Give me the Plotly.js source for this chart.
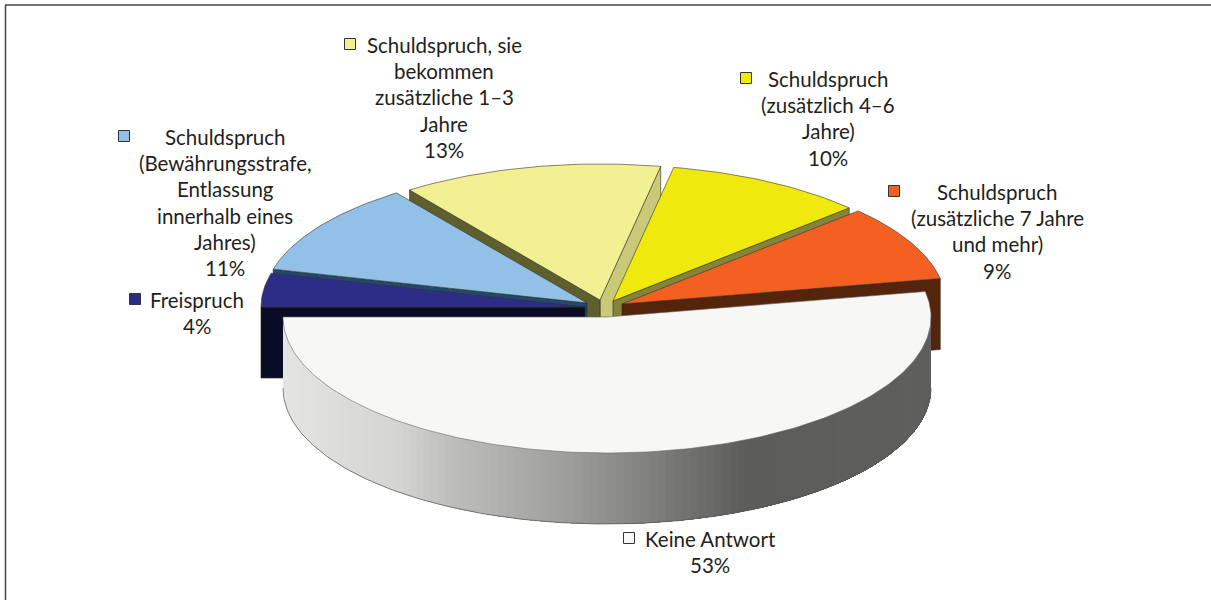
<!DOCTYPE html>
<html>
<head>
<meta charset="utf-8">
<script src="https://cdn.plot.ly/plotly-3.0.1.min.js"></script>
<style>html,body{margin:0;padding:0;background:#fff}</style>
</head>
<body>
<div id="chart" style="width:1211px;height:600px"></div>
<script>
// ---- data ----
const categories = ["Keine Antwort",
  "Schuldspruch<br>(zusätzliche 7 Jahre<br>und mehr)",
  "Schuldspruch<br>(zusätzlich 4–6<br>Jahre)",
  "Schuldspruch, sie<br>bekommen<br>zusätzliche 1–3<br>Jahre",
  "Schuldspruch<br>(Bewährungsstrafe,<br>Entlassung<br>innerhalb eines<br>Jahres)",
  "Freispruch"];
const values = [53, 9, 10, 13, 11, 4];
const topColors = ["#f7f7f5", "#f36021", "#f0e90d", "#f3f094", "#93c0e6", "#2c2d86"];
const startFaceColors = [null, "#54240c", "#85853a", "#c9c978", null, null];
const endFaceColors = [null, null, null, "#5f5f2e", "#24476b", "#0a0c25"];
const explodeX = [0, 15, 6, -7, -20, -22];
const explodeY = [0, -13, -16, -17, -14, -10];
const labelX = [710, 997, 828, 444, 225, 197];
const labelY = [539, 192, 79, 45, 137, 300];
const keyX = [629, 894, 746, 350, 124, 135];
const keyY = [538, 191, 78, 44, 136, 299];
const shadeX = [283, 400, 450, 560, 650, 745, 931];
const shadeGray = [228, 212, 190, 160, 128, 92, 95];

// ---- projection of the tilted pie ----
const cx = 607, cy = 317, rx = 324, ry = 136, depth = 71, startAngle = 180, linePitch = 26.2;
const total = values.reduce((a, b) => a + b, 0);
const rad = d => d * Math.PI / 180;
const px = (a, dx) => cx + dx + rx * Math.cos(rad(a));
const py = (a, dy) => cy + dy - ry * Math.sin(rad(a));

let acc = startAngle;
const spans = values.map(v => { const s = [acc, acc + v / total * 360]; acc = s[1]; return s; });

function arc(a0, a1, dx, dy) {
  const xs = [], ys = [];
  const n = Math.max(2, Math.ceil(Math.abs(a1 - a0)));
  for (let i = 0; i <= n; i++) {
    const a = a0 + (a1 - a0) * i / n;
    xs.push(px(a, dx)); ys.push(py(a, dy));
  }
  return [xs, ys];
}
const poly = (x, y, fill, lineColor, w) => ({
  type: "scatter", mode: "lines", x, y, fill: "toself", fillcolor: fill,
  line: { color: lineColor, width: w }, hoverinfo: "skip", showlegend: false
});
function face(i, angle, color) {
  const dx = explodeX[i], dy = explodeY[i];
  const ox = cx + dx, oy = cy + dy, ex = px(angle, dx), ey = py(angle, dy);
  return poly([ox, ex, ex, ox, ox], [oy, ey, ey + depth, oy + depth, oy], color, "#2a2a1a", 0.6);
}
function sliceTop(i) {
  const dx = explodeX[i], dy = explodeY[i];
  const [xs, ys] = arc(spans[i][0], spans[i][1], dx, dy);
  const c = i === 0 ? "#666" : "#333";
  return poly([cx + dx, ...xs, cx + dx], [cy + dy, ...ys, cy + dy], topColors[i], c, 0.6);
}
function shade(x) {
  for (let k = 1; k < shadeX.length; k++) {
    if (x <= shadeX[k]) {
      const t = (x - shadeX[k - 1]) / (shadeX[k] - shadeX[k - 1]);
      const g = Math.round(shadeGray[k - 1] + (shadeGray[k] - shadeGray[k - 1]) * t);
      return `rgb(${g},${g},${g - 1})`;
    }
  }
  return "rgb(95,95,94)";
}

const traces = [];
[3, 2, 1, 4, 5].forEach(i => {
  if (startFaceColors[i]) traces.push(face(i, spans[i][0], startFaceColors[i]));
  if (endFaceColors[i]) traces.push(face(i, spans[i][1], endFaceColors[i]));
  traces.push(sliceTop(i));
});

// rim of the big slice: each band runs to the far end and the next one paints over it
const rimEnd = 360, step = 1.5;
for (let a = spans[0][0]; a < rimEnd; a += step) {
  const [xs, ys] = arc(a, rimEnd, 0, 0);
  const col = shade(px(a + step / 2, 0));
  traces.push(poly([...xs, ...xs.slice().reverse()],
    [...ys, ...ys.slice().reverse().map(y => y + depth)], col, "rgba(0,0,0,0)", 0));
}
const [bx, by] = arc(spans[0][0], rimEnd, 0, 0);
traces.push({ type: "scatter", mode: "lines", x: bx, y: by.map(y => y + depth),
  line: { color: "#555", width: 0.7 }, hoverinfo: "skip", showlegend: false });
traces.push(sliceTop(0));

// legend keys
traces.push({ type: "scatter", mode: "markers", x: keyX, y: keyY,
  marker: { symbol: "square", size: 11, color: topColors, line: { color: "#333", width: 1 } },
  hoverinfo: "skip", showlegend: false });

const annotations = [];
categories.forEach((c, i) => {
  (c + "<br>" + values[i] + "%").split("<br>").forEach((t, k) => {
    annotations.push({
      x: labelX[i], y: labelY[i] + k * linePitch, xref: "x", yref: "y",
      xanchor: "center", yanchor: "middle", text: t, showarrow: false, align: "center",
      font: { family: "Lato, 'Open Sans', sans-serif", size: 20.5, color: "#231f20" }
    });
  });
});

const layout = {
  width: 1211, height: 600, margin: { l: 0, r: 0, t: 0, b: 0 },
  paper_bgcolor: "#fff", plot_bgcolor: "#fff", showlegend: false,
  xaxis: { range: [0, 1211], visible: false, fixedrange: true },
  yaxis: { range: [600, 0], visible: false, fixedrange: true },
  annotations,
  shapes: [
    { type: "line", x0: 5, x1: 1211, y0: 5, y1: 5, line: { color: "#444", width: 1.5 } },
    { type: "line", x0: 5.5, x1: 5.5, y0: 5, y1: 600, line: { color: "#444", width: 1.5 } }
  ]
};
Plotly.newPlot("chart", traces, layout, { displayModeBar: false, staticPlot: true });
</script>
</body>
</html>
